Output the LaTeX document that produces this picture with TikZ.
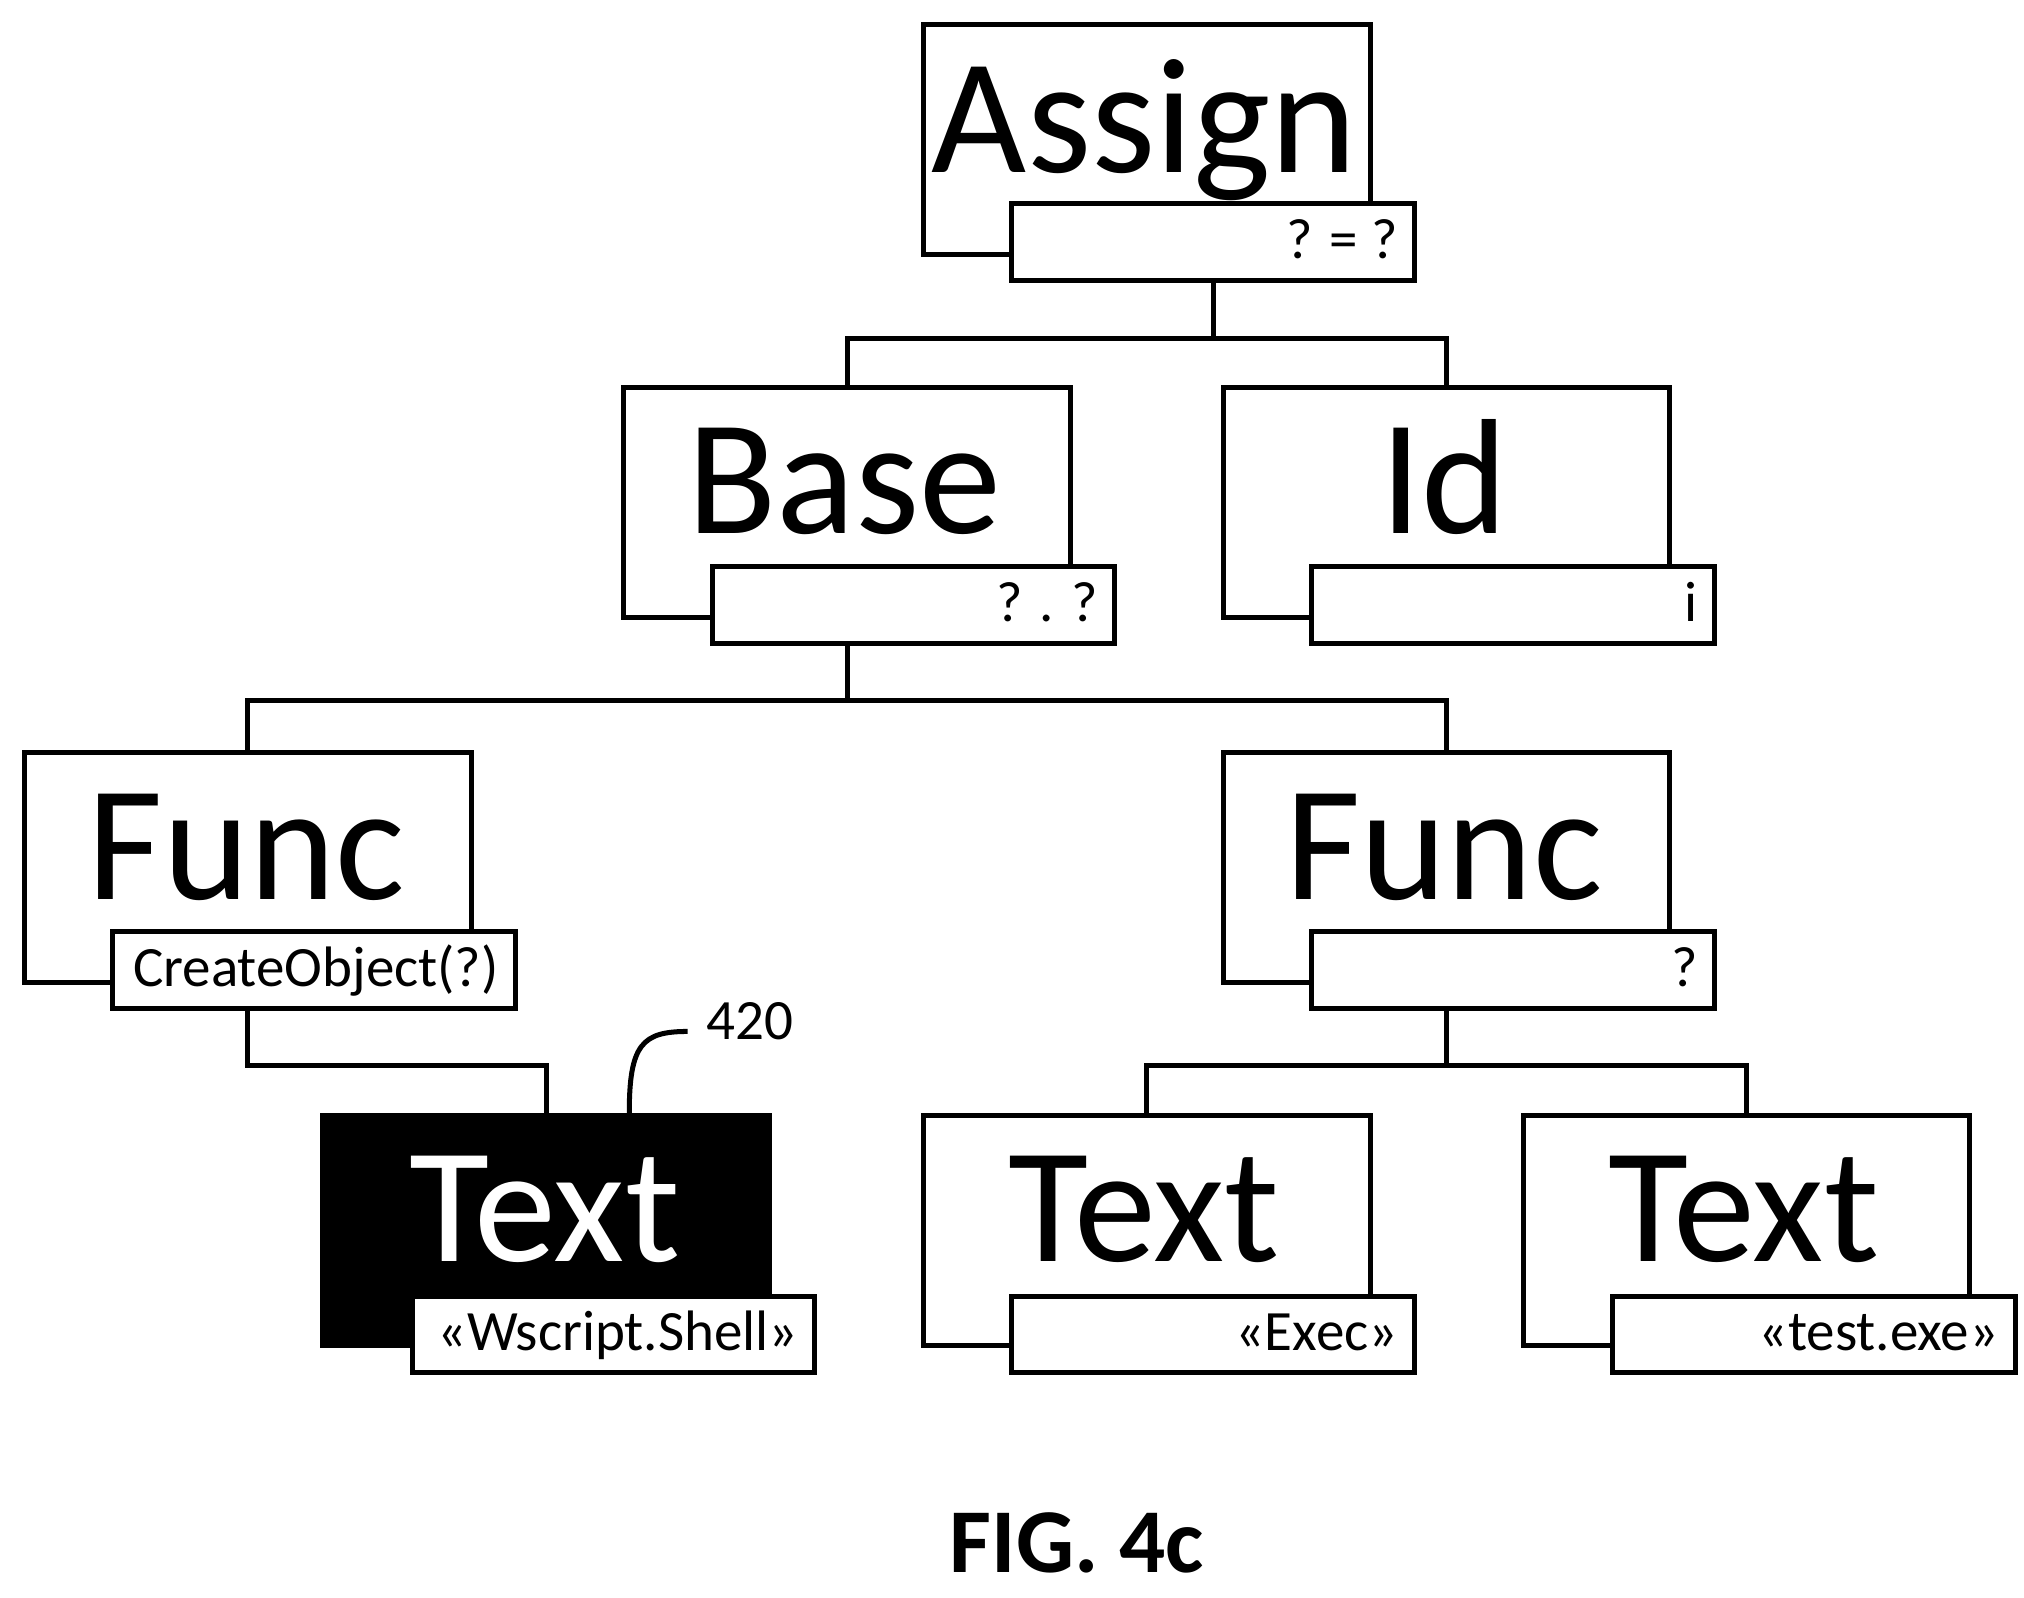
\documentclass[tikz,border=0pt]{standalone}
\usepackage{fontspec}
\setmainfont{Carlito}
\begin{document}
\begin{tikzpicture}[x=0.01cm,y=-0.01cm,
  big/.style={draw,line width=1.1pt,minimum width=3.44cm,minimum height=1.77cm,anchor=north west,inner sep=0pt},
  lab/.style={draw,fill=white,line width=1.1pt,minimum width=3.10cm,minimum height=0.59cm,anchor=north west,inner sep=0pt},
  bt/.style={font=\fontsize{36pt}{36pt}\selectfont,anchor=base,inner sep=0pt},
  lt/.style={font=\fontsize{12.5pt}{12.5pt}\selectfont,anchor=base east,inner sep=0pt},
  con/.style={line width=1.1pt}]
\useasboundingbox (0,0) rectangle (1560,1231);
% boxes
\node[big] (A) at (710,17) {};
\node[lab] (Al) at (778,155) {};
\node[big] (B) at (479,297) {};
\node[lab] (Bl) at (547,435) {};
\node[big] (I) at (941,297) {};
\node[lab] (Il) at (1009,435) {};
\node[big] (F1) at (17,578) {};
\node[lab] (F1l) at (85,716) {};
\node[big] (F2) at (941,578) {};
\node[lab] (F2l) at (1009,716) {};
\node[big,fill=black] (T1) at (247,858) {};
\node[lab] (T1l) at (316,997) {};
\node[big] (T2) at (710,858) {};
\node[lab] (T2l) at (778,997) {};
\node[big] (T3) at (1172,858) {};
\node[lab] (T3l) at (1241,997) {};
% big texts
\node[bt] at (882,133) {Assign};
\node[bt] at (651,411) {Base};
\node[bt] at (1113,411) {Id};
\node[bt] at (190,693) {Func};
\node[bt] at (1113,693) {Func};
\node[bt,text=white] at (420,972) {Text};
\node[bt] at (882,972) {Text};
\node[bt] at (1344,972) {Text};
% labels
\node[lt] at (1078,199) {? = ?};
\node[lt] at (847,479) {? . ?};
\node[lt] at (1309,479) {i};
\node[lt] at (385,760) {CreateObject(?)};
\node[lt] at (1309,760) {?};
\node[lt] at (616,1041) {«Wscript.Shell»};
\node[lt] at (1078,1041) {«Exec»};
\node[lt] at (1541,1041) {«test.exe»};
% connectors
\draw[con] (Al.south) -- ++(0,43) -| (B.north);
\draw[con] (Al.south) ++(0,43) -| (I.north);
\draw[con] (Bl.south -| B.north) -- ++(0,42) -| (F1.north);
\draw[con] (Bl.south -| B.north) ++(0,42) -| (F2.north);
\draw[con] (F1l.south -| F1.north) -- ++(0,42) -| (T1.north);
\draw[con] (F2l.south -| F2.north) -- ++(0,42) -| (T2.north);
\draw[con] (F2l.south -| F2.north) ++(0,42) -| (T3.north);
% reference
\node[font=\fontsize{12.5pt}{12.5pt}\selectfont,anchor=west,inner sep=0pt] (r) at (544,787) {420};
\coordinate (re) at (530,795);
\coordinate (rs) at (485,858);
\draw[con] (rs) .. controls (485,805) and (495,795) .. (re);
\node[font=\bfseries\fontsize{20pt}{20pt}\selectfont,anchor=base,inner sep=0pt] (fig) at (830,1212) {FIG. 4c};
\end{tikzpicture}
\end{document}
